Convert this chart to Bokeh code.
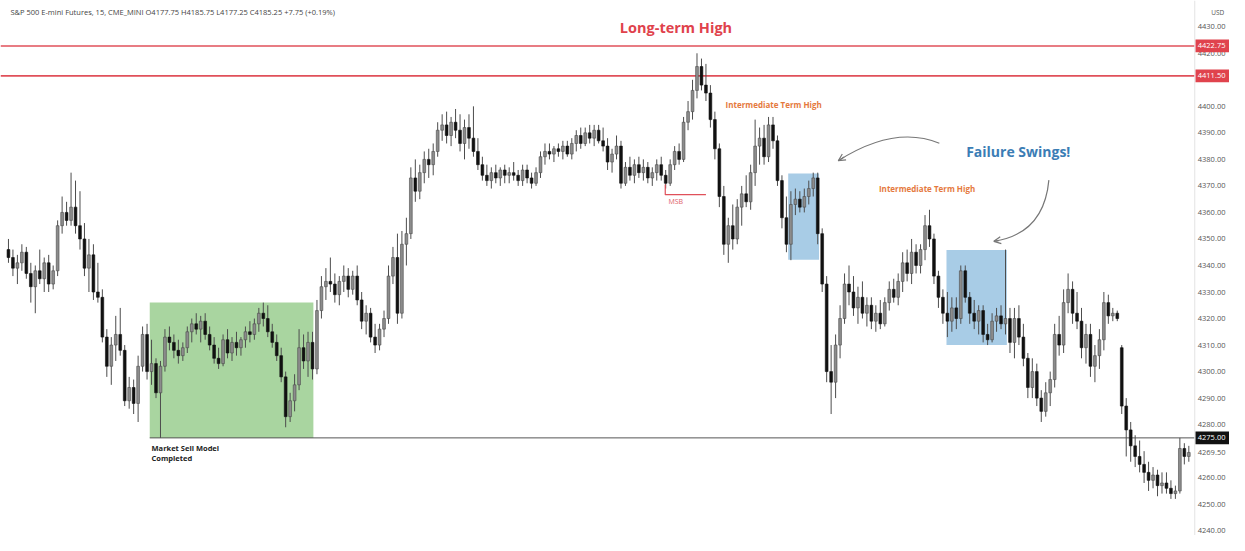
from bokeh.plotting import figure
from bokeh.models import Range1d, Label, Arrow, OpenHead, ColumnDataSource
from bokeh.core.properties import value
from bokeh.embed import file_html
from bokeh.resources import INLINE

# ---------------- data (15-min candles) ----------------
opens = [
 4346,4343,4339,4341,4345,4337,4332,4338,4335,4341,
 4333,4338,4355,4360,4357,4362,4355,4350,4339,4344,
 4330,4328,4313,4302,4310,4314,4308,4289,4294,4288,
 4302,4314,4300,4303,4292,4302,4313,4311,4308,4306,
 4309,4315,4318,4316,4319,4314,4310,4305,4303,4312,
 4307,4311,4309,4312,4315,4314,4318,4322,4320,4315,
 4311,4306,4298,4283,4289,4295,4309,4304,4311,4301,
 4323,4332,4334,4333,4329,4334,4336,4331,4336,4327,
 4319,4322,4313,4310,4316,4320,4336,4343,4322,4348,
 4352,4373,4368,4375,4380,4378,4383,4391,4393,4389,
 4394,4391,4386,4392,4388,4383,4378,4374,4372,4375,
 4373,4376,4374,4375,4374,4372,4376,4373,4371,4375,
 4381,4383,4382,4384,4383,4385,4382,4386,4389,4386,
 4390,4388,4391,4387,4385,4379,4382,4385,4371,4377,
 4374,4378,4375,4377,4373,4375,4378,4374,4371,4378,
 4383,4380,4394,4398,4406,4415,4408,4405,4395,4384,
 4366,4348,4355,4350,4362,4367,4364,4375,4385,4388,
 4381,4393,4387,4372,4358,4348,4363,4365,4362,4366,
 4369,4373,4352,4333,4300,4296,4310,4320,4333,4330,
 4324,4328,4322,4325,4319,4322,4318,4326,4331,4328,
 4334,4341,4337,4345,4340,4346,4355,4350,4336,4328,
 4322,4319,4324,4320,4338,4328,4322,4319,4323,4314,
 4312,4319,4321,4318,4320,4311,4320,4313,4305,4294,
 4300,4290,4285,4292,4297,4314,4310,4326,4331,4322,
 4319,4309,4314,4302,4306,4312,4326,4321,4322,4309,
 4287,4278,4272,4268,4265,4262,4259,4261,4257,4258,
 4256,4254,4255,4271,4268]
highs = [
 4350,4346,4344,4348,4347,4341,4340,4346,4343,4344,
 4340,4357,4366,4364,4375,4372,4368,4356,4350,4348,
 4341,4331,4316,4313,4321,4324,4310,4298,4297,4306,
 4317,4318,4312,4305,4304,4316,4317,4314,4312,4311,
 4317,4320,4322,4321,4322,4317,4313,4309,4314,4316,
 4313,4315,4313,4317,4319,4320,4324,4326,4325,4318,
 4314,4309,4300,4292,4299,4316,4314,4315,4315,4327,
 4336,4339,4343,4337,4336,4340,4339,4338,4340,4330,
 4325,4324,4318,4318,4323,4340,4347,4352,4353,4358,
 4377,4380,4378,4383,4384,4386,4394,4397,4398,4396,
 4399,4397,4395,4397,4400,4388,4381,4378,4377,4378,
 4377,4378,4377,4379,4376,4378,4378,4375,4377,4383,
 4386,4386,4385,4386,4387,4387,4388,4391,4392,4392,
 4393,4393,4393,4392,4388,4384,4389,4387,4379,4381,
 4380,4381,4380,4379,4377,4380,4381,4376,4380,4385,
 4386,4396,4402,4410,4420,4418,4416,4408,4398,4386,
 4370,4358,4363,4365,4370,4374,4378,4395,4392,4393,
 4396,4396,4389,4374,4366,4368,4369,4368,4369,4372,
 4375,4375,4354,4336,4310,4314,4325,4337,4340,4336,
 4332,4334,4328,4328,4325,4327,4328,4334,4335,4337,
 4345,4346,4350,4348,4348,4359,4361,4352,4338,4331,
 4330,4328,4328,4340,4340,4330,4327,4325,4325,4318,
 4322,4324,4325,4346,4324,4324,4325,4318,4307,4305,
 4303,4293,4296,4300,4318,4321,4331,4337,4334,4330,
 4324,4318,4318,4310,4316,4330,4329,4324,4323,4310,
 4290,4281,4276,4274,4270,4266,4264,4263,4262,4262,
 4259,4257,4275,4273,4272]
lows = [
 4341,4336,4333,4338,4335,4326,4322,4333,4330,4330,
 4331,4336,4352,4355,4355,4352,4346,4336,4330,4327,
 4326,4311,4298,4295,4304,4306,4287,4286,4284,4281,
 4300,4297,4295,4290,4275,4300,4308,4305,4303,4304,
 4307,4311,4314,4311,4312,4308,4303,4301,4302,4305,
 4304,4306,4306,4309,4311,4312,4315,4317,4313,4309,
 4304,4296,4279,4281,4285,4293,4301,4298,4297,4299,
 4320,4327,4330,4326,4325,4330,4328,4329,4325,4316,
 4314,4311,4307,4308,4313,4318,4333,4318,4320,4340,
 4350,4364,4365,4371,4373,4374,4381,4387,4386,4385,
 4388,4383,4380,4384,4381,4376,4372,4370,4369,4371,
 4370,4371,4371,4372,4370,4370,4371,4369,4370,4373,
 4378,4380,4379,4381,4380,4381,4380,4383,4384,4385,
 4386,4385,4386,4383,4376,4375,4380,4369,4370,4372,
 4371,4373,4372,4371,4370,4372,4372,4369,4370,4376,
 4378,4379,4391,4395,4403,4406,4402,4392,4380,4362,
 4344,4341,4346,4348,4355,4362,4361,4370,4378,4378,
 4379,4384,4370,4354,4345,4342,4359,4360,4360,4363,
 4366,4348,4330,4296,4284,4290,4305,4318,4325,4321,
 4318,4320,4317,4316,4315,4316,4317,4323,4326,4325,
 4330,4334,4333,4337,4337,4342,4347,4333,4324,4318,
 4313,4315,4316,4318,4326,4318,4316,4314,4311,4310,
 4311,4315,4316,4314,4307,4305,4310,4302,4290,4290,
 4287,4281,4283,4287,4294,4306,4307,4322,4318,4316,
 4305,4303,4298,4296,4301,4308,4318,4319,4319,4284,
 4268,4266,4264,4262,4258,4255,4256,4253,4254,4254,
 4252,4252,4254,4265,4266]
closes = [
 4343,4339,4341,4345,4337,4332,4338,4335,4341,4333,
 4338,4355,4360,4357,4362,4355,4350,4339,4344,4330,
 4328,4313,4302,4310,4314,4308,4289,4294,4288,4302,
 4314,4300,4303,4292,4302,4313,4311,4308,4306,4309,
 4315,4318,4316,4319,4314,4310,4305,4303,4312,4307,
 4311,4309,4312,4315,4314,4318,4322,4320,4315,4311,
 4306,4298,4283,4289,4295,4309,4304,4311,4301,4323,
 4332,4334,4333,4329,4334,4336,4331,4336,4327,4319,
 4322,4313,4310,4316,4320,4336,4343,4322,4348,4352,
 4373,4368,4375,4380,4378,4383,4391,4393,4389,4394,
 4391,4386,4392,4388,4383,4378,4374,4372,4375,4373,
 4376,4374,4375,4374,4372,4376,4373,4371,4375,4381,
 4383,4382,4384,4383,4385,4382,4386,4389,4386,4390,
 4388,4391,4387,4385,4379,4382,4385,4371,4377,4374,
 4378,4375,4377,4373,4375,4378,4374,4371,4378,4383,
 4380,4394,4398,4406,4415,4408,4405,4395,4384,4366,
 4348,4355,4350,4362,4367,4364,4375,4385,4388,4381,
 4393,4387,4372,4358,4348,4363,4365,4362,4366,4369,
 4373,4352,4333,4300,4296,4310,4320,4333,4330,4324,
 4328,4322,4325,4319,4322,4318,4326,4331,4328,4334,
 4341,4337,4345,4340,4346,4355,4350,4336,4328,4322,
 4319,4324,4320,4338,4328,4322,4319,4323,4314,4312,
 4319,4321,4318,4320,4311,4320,4313,4305,4294,4300,
 4290,4285,4292,4297,4314,4310,4326,4331,4322,4319,
 4309,4314,4302,4306,4312,4326,4321,4322,4320,4287,
 4278,4272,4268,4265,4262,4259,4261,4257,4258,4256,
 4254,4255,4271,4268,4269.5]

tick_values = [4240, 4250, 4260, 4269.5, 4280, 4290, 4300, 4310, 4320, 4330, 4340,
               4350, 4360, 4370, 4380, 4390, 4400, 4410, 4420, 4430]
long_term_highs = [4422.75, 4411.50]
sell_model_level = 4275.00
header_text = "S&P 500 E-mini Futures, 15, CME_MINI  O4177.75  H4185.75  L4177.25  C4185.25  +7.75 (+0.19%)"

# zones (bar index, price)
green_zone = dict(left=31.6, right=68.2, bottom=4275.0, top=4326.0)
blue_zones = [dict(left=174.4, right=181.3, bottom=4342.2, top=4374.7),
              dict(left=209.8, right=223.3, bottom=4310.0, top=4345.8)]

n = min(len(opens), len(highs), len(lows), len(closes))
idx = list(range(n))
up = [closes[i] >= opens[i] for i in idx]
src = ColumnDataSource(dict(
    x=idx, o=opens[:n], h=highs[:n], l=lows[:n], c=closes[:n],
    top=[max(opens[i], closes[i]) for i in idx],
    bot=[min(opens[i], closes[i]) for i in idx],
    fill=["#8c8c8c" if u else "#111111" for u in up],
    line=["#4a4a4a" if u else "#111111" for u in up],
))

FONT = "Open Sans"
X0, X_AXIS, X1 = -1.78, 265.33, 273.1   # plot start, price-scale border, canvas end

p = figure(width=1229, height=535, output_backend="svg", toolbar_location=None,
           x_range=Range1d(X0, X1), y_range=Range1d(4238.2, 4439.9),
           x_axis_location=None, y_axis_location=None,
           min_border_left=0, min_border_top=0, min_border_bottom=0, min_border_right=0)
p.grid.visible = False
p.outline_line_color = None

# zones below candles
p.quad(left=[green_zone["left"]], right=[green_zone["right"]],
       bottom=[green_zone["bottom"]], top=[green_zone["top"]],
       fill_color="#a9d5a0", line_color=None)
for z in blue_zones:
    p.quad(left=[z["left"]], right=[z["right"]], bottom=[z["bottom"]], top=[z["top"]],
           fill_color="#a8cce6", line_color=None)

# sell model level line
p.segment(x0=[green_zone["left"]], y0=[sell_model_level], x1=[X_AXIS], y1=[sell_model_level],
          line_color="#555555", line_width=1)

# long-term high lines
for lvl in long_term_highs:
    p.segment(x0=[X0], y0=[lvl], x1=[X_AXIS], y1=[lvl], line_color="#e0505a", line_width=1.6)

# candles
p.segment(x0="x", y0="l", x1="x", y1="h", source=src, line_color="#4d4d4d", line_width=1)
p.vbar(x="x", width=0.62, top="top", bottom="bot", source=src,
       fill_color="fill", line_color="line", line_width=0.6)

# MSB mark
p.line(x=[146.9, 146.9, 156.0], y=[4370.5, 4366.7, 4366.7], line_color="#e0505a", line_width=1.2)

# curved arrows
p.quadratic(x0=[208.2], y0=[4386.1], cx=[198.2], cy=[4393.0], x1=[185.6], y1=[4379.5],
            line_color="#777777", line_width=1.2)
p.add_layout(Arrow(end=OpenHead(size=7, line_color="#777777", line_width=1.2),
                   x_start=186.9, y_start=4380.9, x_end=185.6, y_end=4379.5,
                   line_color="#777777", line_width=1.2))
p.quadratic(x0=[232.7], y0=[4372.2], cx=[231.6], cy=[4352.0], x1=[220.4], y1=[4349.1],
            line_color="#777777", line_width=1.2)
p.add_layout(Arrow(end=OpenHead(size=7, line_color="#777777", line_width=1.2),
                   x_start=221.5, y_start=4349.4, x_end=220.4, y_end=4349.1,
                   line_color="#777777", line_width=1.2))

def txt(x, y, s, size, color, style="normal", align="left"):
    p.add_layout(Label(x=x, y=y, text=s, text_font=FONT, text_font_size=size,
                       text_color=color, text_font_style=style, text_align=align,
                       text_baseline="middle"))

txt(0.44, 4435.5, header_text, "7.5px", "#444444")
txt(149.3, 4429.6, "Long-term High", "14.5px", "#e0424c", "bold", "center")
txt(160.4, 4400.7, "Intermediate Term High", "8px", "#e5793d", "bold")
txt(194.7, 4369.2, "Intermediate Term High", "8px", "#e5793d", "bold")
txt(214.2, 4383.1, "Failure Swings!", "14px", "#3b7db5", "bold")
txt(147.6, 4364.1, "MSB", "7px", "#e0606a")
txt(32.0, 4271.3, "Market Sell Model", "7.5px", "#222222", "bold")
txt(32.0, 4267.6, "Completed", "7.5px", "#222222", "bold")

# ---- price scale (right) ----
p.segment(x0=[X_AXIS], y0=[4238.2], x1=[X_AXIS], y1=[4439.9], line_color="#e3e3e3", line_width=1)
p.text(x=[266.0] * len(tick_values), y=tick_values,
       text=["%.2f" % t for t in tick_values],
       text_font=value(FONT), text_font_size="7.5px", text_color="#555555",
       text_align="left", text_baseline="middle")
txt(269.0, 4435.5, "USD", "6.5px", "#555555")

tag_levels = [long_term_highs[0], long_term_highs[1], sell_model_level]
tag_colors = ["#e0434d", "#e0434d", "#111111"]
p.rect(x=[269.9] * 3, y=tag_levels, width=8.8, height=4.8,
       fill_color=tag_colors, line_color=None)
p.text(x=[266.0] * 3, y=tag_levels, text=["%.2f" % t for t in tag_levels],
       text_font=value(FONT), text_font_size="7.5px", text_color="white",
       text_align="left", text_baseline="middle")

open("out.html", "w").write(file_html(p, INLINE))
